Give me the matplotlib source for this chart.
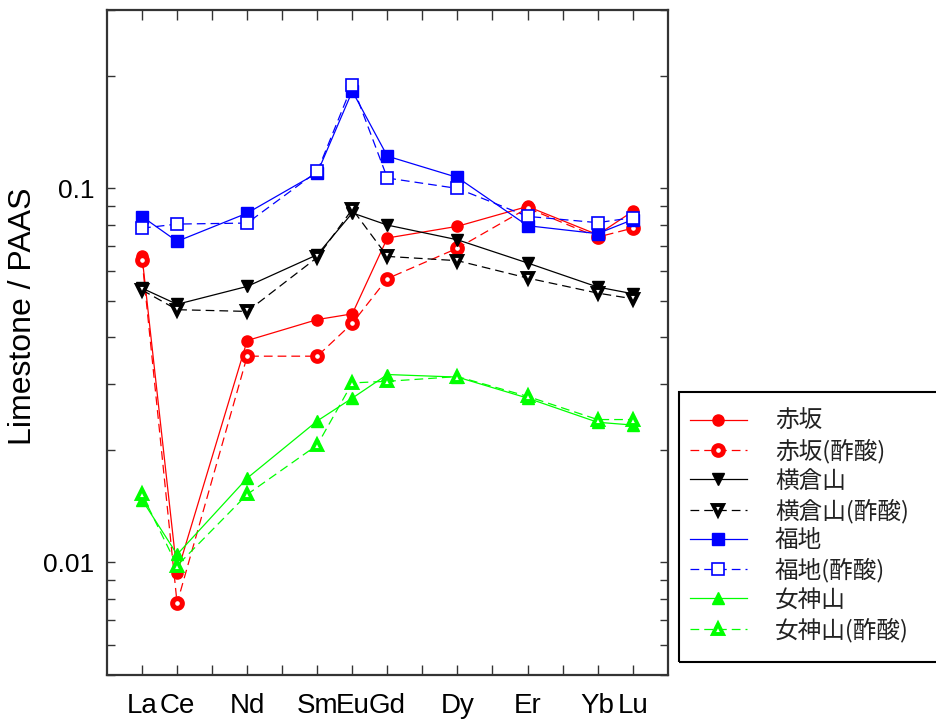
import numpy as np
import matplotlib
matplotlib.use("Agg")
import matplotlib.pyplot as plt
from matplotlib.patches import Rectangle

# REE order (all 15 ticks), only some measured
all_ree = ["La", "Ce", "Pr", "Nd", "Pm", "Sm", "Eu", "Gd", "Tb", "Dy", "Ho", "Er", "Tm", "Yb", "Lu"]
measured = ["La", "Ce", "Nd", "Sm", "Eu", "Gd", "Dy", "Er", "Yb", "Lu"]

akasaka      = [0.0658, 0.00936, 0.0392, 0.0446, 0.0462, 0.0737, 0.0792, 0.0895, 0.0752, 0.0868]
akasaka_ac   = [0.0645, 0.00778, 0.0356, 0.0356, 0.0436, 0.0574, 0.0692, 0.0886, 0.0741, 0.0783]
yokokura     = [0.0541, 0.0490, 0.0547, 0.0665, 0.0860, 0.0798, 0.0729, 0.0632, 0.0545, 0.0523]
yokokura_ac  = [0.0535, 0.0474, 0.0469, 0.0654, 0.0880, 0.0658, 0.0641, 0.0576, 0.0525, 0.0507]
fukuchi      = [0.0841, 0.0722, 0.0859, 0.110, 0.182, 0.122, 0.107, 0.0795, 0.0757, 0.0825]
fukuchi_ac   = [0.0783, 0.0803, 0.0808, 0.111, 0.189, 0.1066, 0.100, 0.0842, 0.0810, 0.0835]
megami       = [0.0147, 0.0105, 0.0168, 0.0239, 0.0275, 0.0318, 0.0313, 0.0275, 0.0237, 0.0233]
megami_ac    = [0.0152, 0.0098, 0.0152, 0.0206, 0.0302, 0.0305, 0.0314, 0.0278, 0.0241, 0.0241]

labels = ["赤坂", "赤坂(酢酸)", "横倉山", "横倉山(酢酸)", "福地", "福地(酢酸)", "女神山", "女神山(酢酸)"]

xs = [all_ree.index(e) for e in measured]
dash = (0, (7, 4))

fig = plt.figure(figsize=(9.36, 7.22), dpi=100)
ax = fig.add_axes([107/936, 1-675/722, (667.7-107)/936, (675-10)/722])

styles = [
    (akasaka,     "#ff0000", "-",  "o", "#ff0000", 8,   1.0),
    (akasaka_ac,  "#ff0000", dash, "o", "white",   7,   3.6),
    (yokokura,    "black",   "-",  "v", "black",   9,   1.0),
    (yokokura_ac, "black",   dash, "v", "white",   7.5, 2.8),
    (fukuchi,     "#0000ff", "-",  "s", "#0000ff", 8,   1.0),
    (fukuchi_ac,  "#0000ff", dash, "s", "white",   8,   1.2),
    (megami,      "#00ff00", "-",  "^", "#00ff00", 9,   1.0),
    (megami_ac,   "#00ff00", dash, "^", "white",   7.5, 2.8),
]

handles = []
for (vals, c, ls, m, fc, ms, mew), lab in zip(styles, labels):
    h, = ax.plot(xs, vals, color=c, linestyle=ls, linewidth=0.9, marker=m,
                 markerfacecolor=fc, markeredgecolor=c, markersize=ms,
                 markeredgewidth=mew, label=lab)
    handles.append(h)

ax.set_yscale("log")
ax.set_ylim(0.005, 0.3)
ax.set_xlim(-1, 15)

ax.set_xticks(range(len(all_ree)))
ax.set_xticklabels([e if e in measured else "" for e in all_ree],
                   fontsize=20, family="Liberation Sans")
ax.set_yticks([0.01, 0.1])
ax.set_yticklabels(["0.01", "0.1"], fontsize=19, family="Liberation Sans")
ax.yaxis.set_minor_formatter(plt.NullFormatter())

ax.tick_params(axis="x", which="major", direction="in", length=7, width=1,
               top=True, pad=13, color="#333333")
ax.tick_params(axis="y", which="both", direction="in", length=6, width=1,
               right=True, pad=9, color="#333333")
ax.tick_params(axis="x", which="minor", bottom=False, top=False)

for s in ax.spines.values():
    s.set_linewidth(1.6)
    s.set_color("#333333")

ax.set_ylabel("Limestone / PAAS", fontsize=23, family="Liberation Sans")
ax.yaxis.set_label_coords(-0.123, 0.539)

# legend box (extends off the right edge like the original)
fig.patches.append(Rectangle((679/936, 1-662/722), 300/936, (662-392)/722,
                             transform=fig.transFigure, fill=False,
                             edgecolor="black", linewidth=1.5))
fig.legend(handles=handles, loc="upper left",
           bbox_to_anchor=(690/936, 1-410/722), frameon=False,
           prop={"family": "Noto Sans CJK JP", "size": 17},
           handlelength=2.4, handletextpad=1.2, labelspacing=0.25,
           borderpad=0, borderaxespad=0, labelcolor="#222222")

fig.savefig("out.png", dpi=100)
